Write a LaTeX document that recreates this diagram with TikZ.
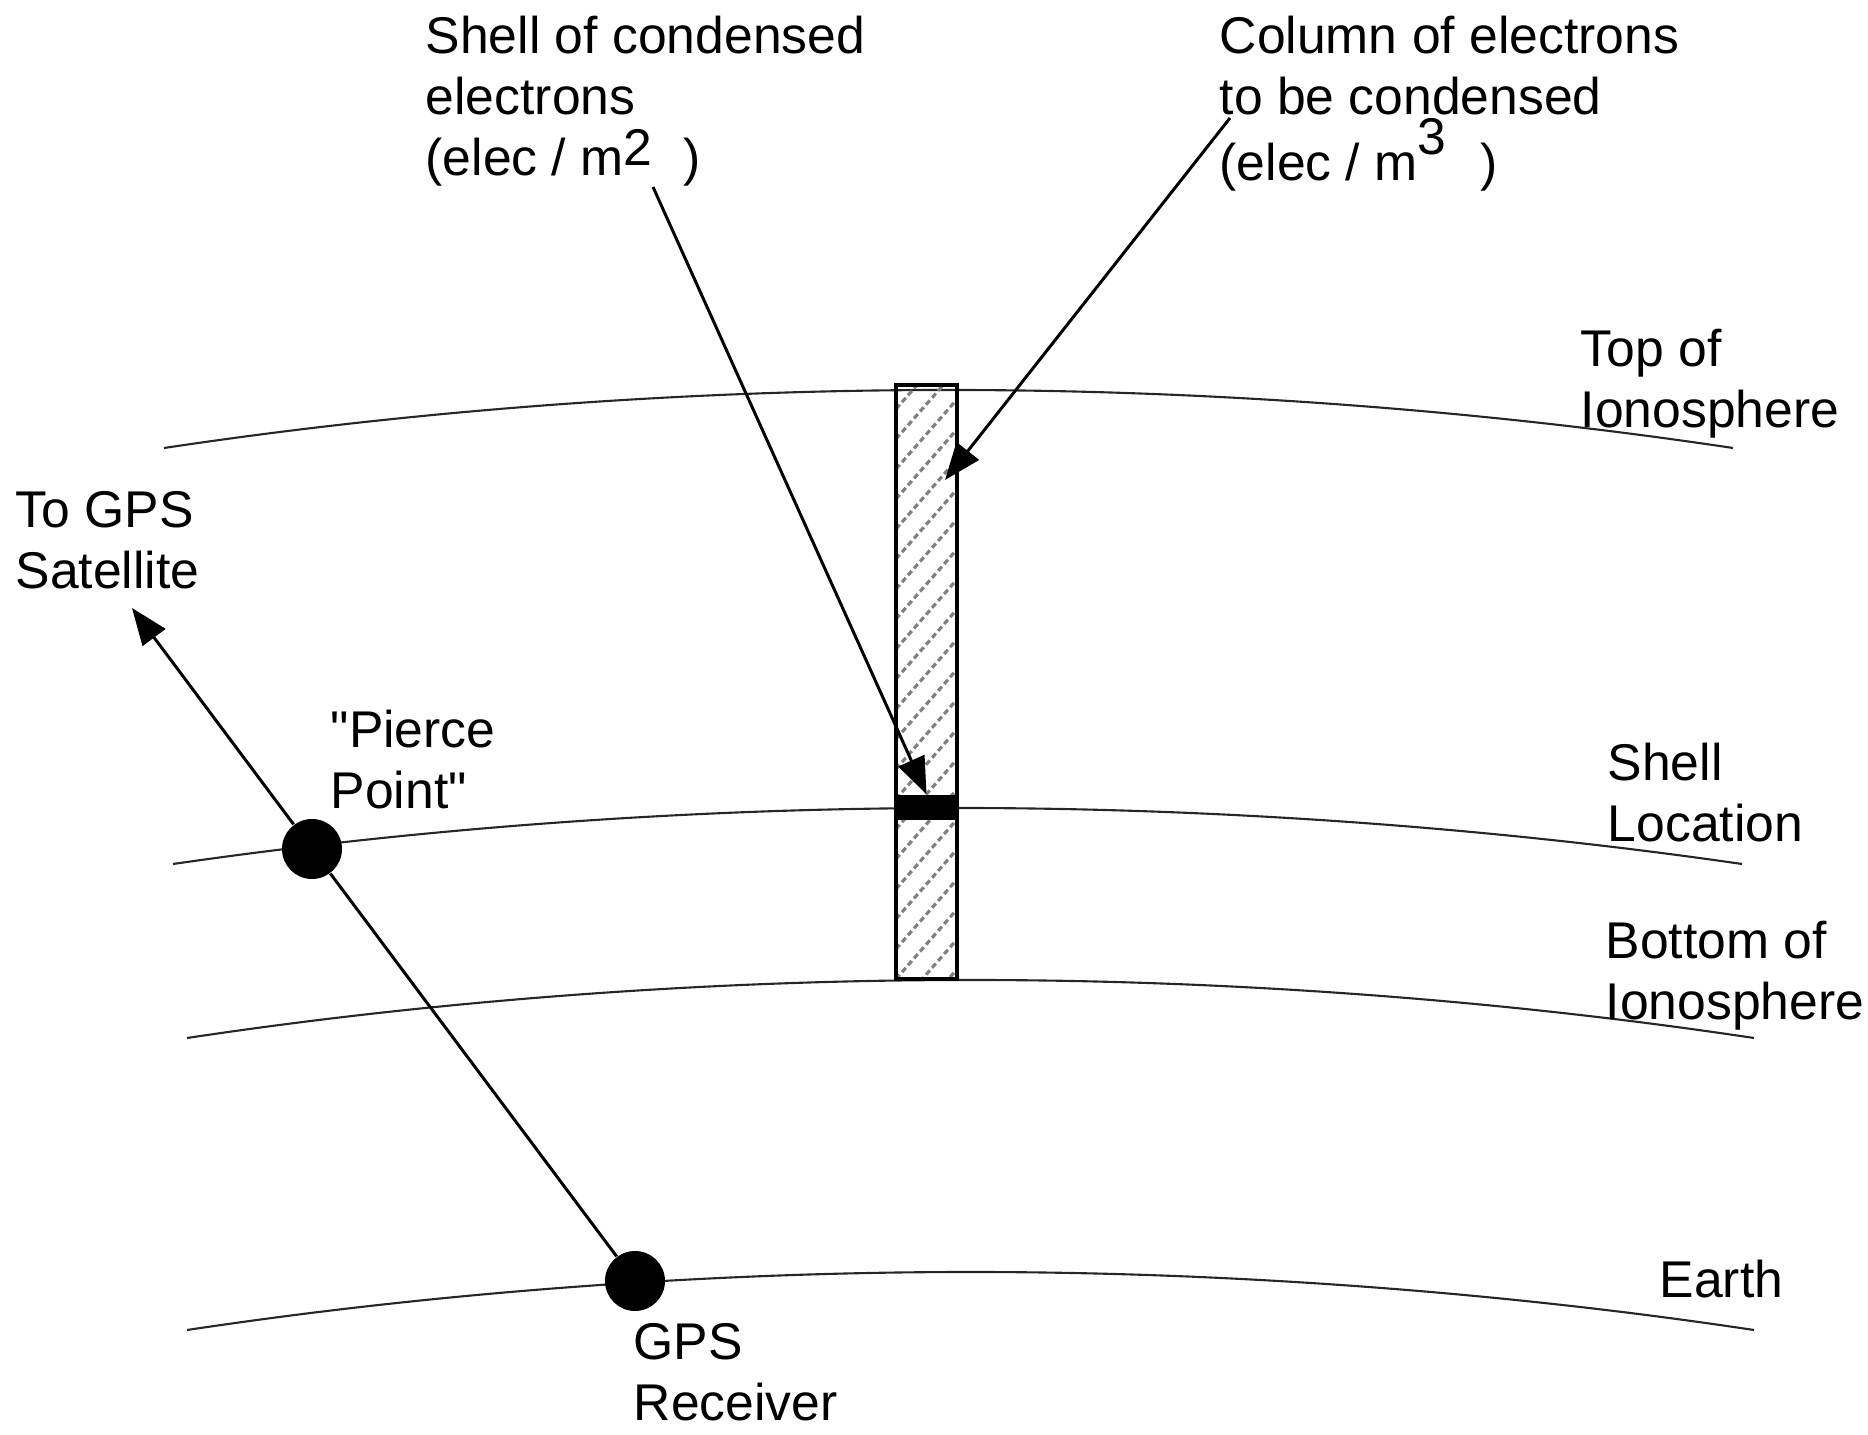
\documentclass[tikz,border=0pt]{standalone}
\usepackage{fontspec}
\setmainfont{Liberation Sans}
\usetikzlibrary{arrows.meta}

\begin{document}
\begin{tikzpicture}[
	lbl/.style={anchor=north west,inner sep=0,align=left,font=\fontsize{14.7}{17.4}\selectfont},
	dot/.style={circle,fill=black,minimum size=0.6cm,inner sep=0},
	arr/.style={line width=0.85pt,-{Triangle[length=10.5pt,width=8pt]}},
	layer/.style={line width=0.6pt,black!85},
	hatch/.style={gray,line width=0.9pt,dash pattern=on 1.6pt off 1pt}
	]
	\useasboundingbox (0,0) rectangle (18.68,14.35);

	% shells round the earth
	\draw [layer] (1.64,9.87) parabola bend (9.485,10.45) (17.33,9.87);
	\draw [layer] (1.73,5.71) parabola bend (9.575,6.27) (17.42,5.71);
	\draw [layer] (1.87,3.97) parabola bend (9.705,4.55) (17.54,3.97);
	\draw [layer] (1.87,1.05) parabola bend (9.705,1.63) (17.54,1.05);

	\node [lbl] (top) at (15.80,11.07) {Top of\\Ionosphere};
	\node [lbl] (shloc) at (16.07,6.93) {Shell\\Location};
	\node [lbl] (bot) at (16.05,5.15) {Bottom of\\Ionosphere};
	\node [lbl] (earth) at (16.59,1.76) {Earth};

	% column and shell
	\node [draw,line width=1.1pt,minimum width=0.61cm,minimum height=5.94cm,inner sep=0,
		path picture={\foreach \y in {-0.9,-0.6,...,6.3}
			\draw [hatch] ([yshift=\y cm]path picture bounding box.south west) -- ++(0.7,0.8);}]
		(col) at (9.265,7.53) {};
	\node [fill=black,minimum width=0.61cm,minimum height=0.25cm,inner sep=0] (bar) at (9.265,6.275) {};

	\node [lbl] (shtxt) at (4.25,14.20) {Shell of condensed\\electrons\\(elec / m\raisebox{0.2em}{2}\hspace{0.6em})};
	\node [lbl] (coltxt) at (12.19,14.20) {Column of electrons\\to be condensed\\(elec / m\raisebox{0.5em}{3}\hspace{0.65em})};
	\coordinate (s1) at (6.53,12.48);
	\coordinate (c1) at (12.30,13.17);
	\coordinate (c2) at (9.45,9.55);
	\draw [arr] (s1) -- (bar.north);
	\draw [arr] (c1) -- (c2);

	% ray to the satellite
	\node [dot] (rcv) at (6.35,1.54) {};
	\node [dot] (pierce) at (3.12,5.86) {};
	\coordinate (sat) at (1.32,8.27);
	\draw [line width=0.85pt] (rcv) -- (pierce);
	\draw [arr] (pierce) -- (sat);

	\node [lbl] (sattxt) at (0.15,9.44) {To GPS\\Satellite};
	\node [lbl] (piercetxt) at (3.30,7.26) {\textquotedbl Pierce\\Point\textquotedbl};
	\node [lbl] (rcvtxt) at (6.33,1.12) {GPS\\Receiver};
\end{tikzpicture}
\end{document}
